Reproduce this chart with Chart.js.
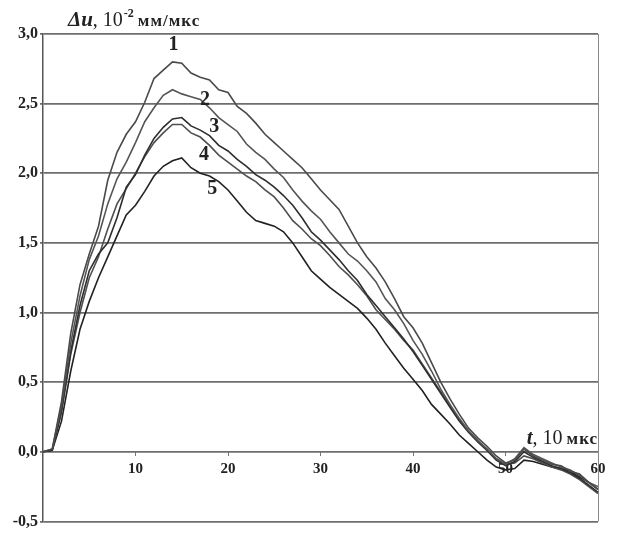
<!DOCTYPE html>
<html>
<head>
<meta charset="utf-8">
<script src="https://cdn.jsdelivr.net/npm/chart.js@4"></script>
<style>
  html, body { margin: 0; padding: 0; background: #fff; }
  #wrap { width: 620px; height: 533px; }
</style>
</head>
<body>
<div id="wrap"><canvas id="chart" width="620" height="533"></canvas></div>
<script>
// время, 10 мкс
const times = [0, 1, 2, 3, 4, 5, 6, 7, 8, 9, 10, 11, 12, 13, 14, 15, 16, 17, 18, 19, 20,
  21, 22, 23, 24, 25, 26, 27, 28, 29, 30, 31, 32, 33, 34, 35, 36, 37, 38, 39, 40,
  41, 42, 43, 44, 45, 46, 47, 48, 49, 50, 51, 52, 53, 54, 55, 56, 57, 58, 59, 60];

// Δu, 10^-2 мм/мкс
const curve1 = [0, 0.02, 0.36, 0.85, 1.20, 1.42, 1.62, 1.95, 2.15, 2.28, 2.37, 2.51, 2.68, 2.74, 2.80, 2.79,
  2.72, 2.69, 2.67, 2.60, 2.58, 2.48, 2.43, 2.36, 2.28, 2.22, 2.16, 2.10, 2.04, 1.96, 1.88,
  1.81, 1.74, 1.62, 1.50, 1.40, 1.32, 1.22, 1.10, 0.97, 0.89, 0.78, 0.64, 0.50, 0.38, 0.27,
  0.17, 0.10, 0.04, -0.03, -0.08, -0.06, 0.02, -0.03, -0.06, -0.09, -0.10, -0.14, -0.16, -0.22, -0.27];
const curve2 = [0, 0.02, 0.33, 0.78, 1.12, 1.38, 1.55, 1.78, 1.96, 2.08, 2.22, 2.37, 2.47, 2.56, 2.60, 2.57,
  2.55, 2.53, 2.47, 2.40, 2.35, 2.30, 2.21, 2.15, 2.10, 2.03, 1.97, 1.88, 1.80, 1.73, 1.67,
  1.58, 1.50, 1.42, 1.37, 1.30, 1.22, 1.10, 1.02, 0.92, 0.80, 0.70, 0.58, 0.45, 0.34, 0.24,
  0.15, 0.08, 0.02, -0.05, -0.09, -0.05, 0.03, -0.02, -0.05, -0.08, -0.11, -0.13, -0.17, -0.22, -0.25];
const curve3 = [0, 0.01, 0.30, 0.72, 1.05, 1.30, 1.42, 1.50, 1.68, 1.90, 1.99, 2.13, 2.25, 2.33, 2.39, 2.40,
  2.34, 2.31, 2.27, 2.20, 2.16, 2.10, 2.05, 1.99, 1.95, 1.90, 1.84, 1.77, 1.68, 1.58, 1.52,
  1.45, 1.38, 1.30, 1.23, 1.13, 1.05, 0.97, 0.89, 0.81, 0.72, 0.62, 0.52, 0.42, 0.32, 0.22,
  0.14, 0.07, 0.01, -0.06, -0.10, -0.07, 0.00, -0.04, -0.07, -0.10, -0.12, -0.15, -0.19, -0.24, -0.29];
const curve4 = [0, 0.01, 0.28, 0.70, 1.00, 1.25, 1.40, 1.60, 1.78, 1.89, 2.00, 2.12, 2.22, 2.29, 2.35, 2.35,
  2.29, 2.26, 2.20, 2.13, 2.08, 2.03, 1.98, 1.94, 1.88, 1.83, 1.75, 1.66, 1.60, 1.53, 1.48,
  1.41, 1.33, 1.27, 1.20, 1.12, 1.02, 0.95, 0.88, 0.80, 0.73, 0.63, 0.53, 0.43, 0.33, 0.23,
  0.15, 0.08, 0.02, -0.05, -0.09, -0.08, -0.03, -0.05, -0.08, -0.11, -0.13, -0.16, -0.20, -0.25, -0.30];
const curve5 = [0, 0.01, 0.22, 0.58, 0.88, 1.08, 1.25, 1.40, 1.55, 1.70, 1.77, 1.87, 1.98, 2.05, 2.09, 2.11,
  2.04, 2.00, 1.98, 1.94, 1.88, 1.80, 1.72, 1.66, 1.64, 1.62, 1.58, 1.50, 1.40, 1.30, 1.24,
  1.18, 1.13, 1.08, 1.03, 0.96, 0.88, 0.78, 0.69, 0.60, 0.52, 0.44, 0.34, 0.27, 0.20, 0.12,
  0.06, 0.00, -0.06, -0.11, -0.13, -0.12, -0.06, -0.07, -0.09, -0.11, -0.12, -0.14, -0.18, -0.22, -0.27];

const curveNames = ['1', '2', '3', '4', '5'];
// where the curve numbers sit, in data units [t, Δu]
const namePos = [[14.1, 2.92], [17.5, 2.53], [18.5, 2.33], [17.4, 2.13], [18.3, 1.89]];

const yTicks = [-0.5, 0, 0.5, 1.0, 1.5, 2.0, 2.5, 3.0];
const xTicks = [10, 20, 30, 40, 50, 60];

const serif = '"Liberation Serif", "DejaVu Serif", serif';
const lineColors = ['#4a4a4a', '#555555', '#2e2e2e', '#4f4f4f', '#222222'];

const toPoints = (arr) => arr.map((v, i) => ({ x: times[i], y: v }));

// подписи кривых, осей и правая рамка
const decorPlugin = {
  id: 'decor',
  afterDraw(chart) {
    const { ctx, chartArea, scales } = chart;
    ctx.save();
    // right border
    ctx.strokeStyle = '#8a8a8a';
    ctx.lineWidth = 1;
    ctx.beginPath();
    ctx.moveTo(chartArea.right + 0.5, chartArea.top);
    ctx.lineTo(chartArea.right + 0.5, chartArea.bottom);
    ctx.stroke();

    // curve numbers
    ctx.fillStyle = '#222';
    ctx.textAlign = 'center';
    ctx.textBaseline = 'middle';
    ctx.font = 'bold 20px ' + serif;
    namePos.forEach((p, i) => {
      ctx.fillText(curveNames[i], scales.x.getPixelForValue(p[0]), scales.y.getPixelForValue(p[1]));
    });

    // y axis title
    ctx.textAlign = 'left';
    ctx.textBaseline = 'alphabetic';
    let x = chartArea.left + 25;
    const yb = chartArea.top - 8;
    ctx.font = 'italic bold 21px ' + serif;
    ctx.fillText('Δu', x, yb);
    x += ctx.measureText('Δu').width;
    ctx.font = '20px ' + serif;
    ctx.fillText(', 10', x, yb);
    x += ctx.measureText(', 10').width + 1;
    ctx.font = 'bold 12px ' + serif;
    ctx.fillText('-2', x, yb - 9);
    x += ctx.measureText('-2').width + 4;
    ctx.font = 'bold 17px ' + serif;
    ctx.letterSpacing = '1px';
    ctx.fillText('мм/мкс', x, yb);
    ctx.letterSpacing = '0px';

    // x axis title
    let tx = scales.x.getPixelForValue(52.3);
    const ty = scales.y.getPixelForValue(0) - 8;
    ctx.font = 'italic bold 21px ' + serif;
    ctx.fillText('t', tx, ty);
    tx += ctx.measureText('t').width;
    ctx.font = '20px ' + serif;
    ctx.fillText(', 10', tx, ty);
    tx += ctx.measureText(', 10').width + 4;
    ctx.font = 'bold 17px ' + serif;
    ctx.letterSpacing = '1px';
    ctx.fillText('мкс', tx, ty);
    ctx.letterSpacing = '0px';
    ctx.restore();
  }
};

new Chart(document.getElementById('chart'), {
  type: 'line',
  data: {
    datasets: [curve1, curve2, curve3, curve4, curve5].map((arr, i) => ({
      label: curveNames[i],
      data: toPoints(arr),
      borderColor: lineColors[i],
      borderWidth: 1.6,
      pointRadius: 0,
      tension: 0,
      fill: false
    }))
  },
  options: {
    responsive: false,
    animation: false,
    layout: { padding: { top: 34, right: 22, bottom: 6, left: 0 } },
    plugins: { legend: { display: false }, tooltip: { enabled: false } },
    scales: {
      x: {
        type: 'linear',
        min: 0,
        max: 60,
        position: { y: 0 },
        afterFit: (s) => { s.height = 0; },
        afterBuildTicks: (s) => { s.ticks = xTicks.map(v => ({ value: v })); },
        grid: { drawOnChartArea: false, drawTicks: true, tickLength: 4, color: '#777' },
        border: { display: false },
        ticks: {
          color: '#222',
          padding: 4,
          font: { family: serif, size: 15, weight: 'bold' },
          callback: (v) => String(v)
        }
      },
      y: {
        min: -0.5,
        max: 3.0,
        afterFit: (s) => { s.width = 43; },
        afterBuildTicks: (s) => { s.ticks = yTicks.map(v => ({ value: v })); },
        grid: { color: '#6e6e6e', lineWidth: 1.8, drawTicks: true, tickLength: 3 },
        border: { display: true, color: '#555', width: 1.5 },
        ticks: {
          color: '#222',
          padding: 2,
          font: { family: serif, size: 16, weight: 'bold' },
          callback: (v) => v.toFixed(1).replace('.', ',')
        }
      }
    }
  },
  plugins: [decorPlugin]
});
</script>
</body>
</html>
